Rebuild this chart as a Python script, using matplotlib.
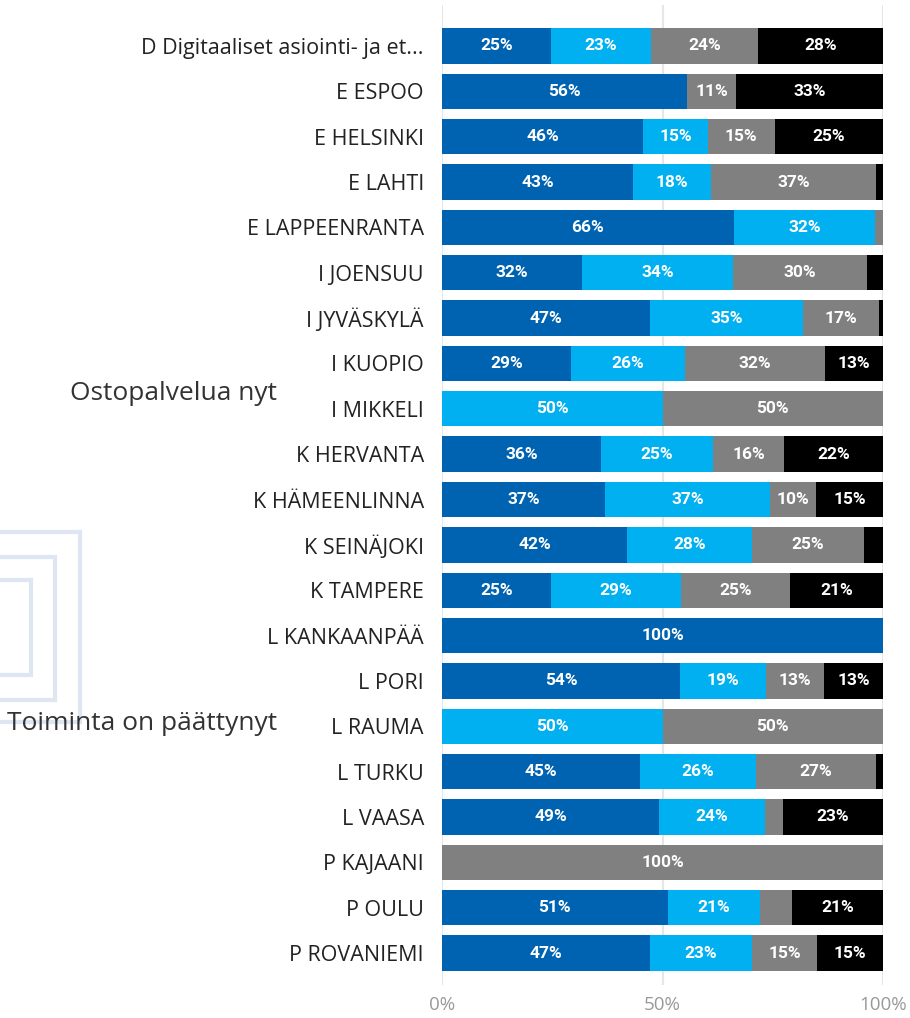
import matplotlib
matplotlib.use("Agg")
import matplotlib.pyplot as plt
from matplotlib.patches import Rectangle
import numpy as np

# categories, top to bottom
categories = [
    "D Digitaaliset asiointi- ja et...", "E ESPOO", "E HELSINKI", "E LAHTI",
    "E LAPPEENRANTA", "I JOENSUU", "I JYVÄSKYLÄ", "I KUOPIO", "I MIKKELI",
    "K HERVANTA", "K HÄMEENLINNA", "K SEINÄJOKI", "K TAMPERE", "L KANKAANPÄÄ",
    "L PORI", "L RAUMA", "L TURKU", "L VAASA", "P KAJAANI", "P OULU", "P ROVANIEMI",
]

# shares (%) for the four answer groups
dark_blue = [24.7, 55.6, 45.6, 43.3, 66.2, 31.7, 47.2, 29.3, 0, 36.0, 37.0,
             42.0, 24.7, 100, 54.0, 0, 44.9, 49.2, 0, 51.2, 47.2]
light_blue = [22.7, 0, 14.7, 17.7, 32.0, 34.3, 34.7, 25.8, 50, 25.4, 37.4,
              28.3, 29.4, 0, 19.4, 50, 26.4, 24.0, 0, 20.9, 23.1]
grey = [24.3, 11.1, 15.1, 37.4, 1.8, 30.4, 17.2, 31.7, 50, 16.2, 10.4,
        25.3, 24.9, 0, 13.3, 50, 27.1, 4.1, 100, 7.3, 14.7]
black = [28.3, 33.3, 24.6, 1.6, 0, 3.6, 0.9, 13.2, 0, 22.4, 15.2,
         4.4, 21.0, 0, 13.3, 0, 1.6, 22.7, 0, 20.6, 15.0]

series = [dark_blue, light_blue, grey, black]
colors = ["#0063b1", "#00b0f0", "#808080", "#000000"]

xticks = [0, 50, 100]
xticklabels = ["0%", "50%", "100%"]

W, H = 910, 1018
fig = plt.figure(figsize=(W / 100, H / 100), dpi=100)
ax = fig.add_axes([442 / W, 1 - 985 / H, (883 - 442) / W, (985 - 5) / H])

y = np.arange(len(categories))
left = np.zeros(len(categories))
for vals, col in zip(series, colors):
    vals = np.array(vals, dtype=float)
    ax.barh(y, vals, left=left, height=0.78, color=col, zorder=2)
    for yi, (l, v) in enumerate(zip(left, vals)):
        if v >= 9:
            ax.text(l + v / 2, yi, f"{v:.0f}%", ha="center", va="center",
                    color="white", fontsize=12.5, fontweight="bold",
                    family=["Roboto", "DejaVu Sans"], zorder=3)
    left += vals

ax.set_xlim(0, 100)
ax.set_ylim(20 + 32 / 45.35, -41 / 45.35)
ax.set_xticks(xticks)
ax.set_xticklabels(xticklabels)
ax.set_yticks(y)
ax.set_yticklabels(categories)
ax.tick_params(axis="y", length=0, pad=13, labelsize=15.5, labelcolor="#222222")
ax.tick_params(axis="x", length=0, pad=8, labelsize=13.5, labelcolor="#999999")
for lab in ax.get_yticklabels() + ax.get_xticklabels():
    lab.set_family(["Open Sans", "DejaVu Sans"])
for s in ax.spines.values():
    s.set_visible(False)
ax.grid(axis="x", color="#e6e6e6", linewidth=1.5, zorder=0)

# side annotations
fig.text(277 / W, 1 - 394 / H, "Ostopalvelua nyt", ha="right", va="center",
         fontsize=19, color="#333333", family=["Open Sans", "DejaVu Sans"])
fig.text(277 / W, 1 - 723 / H, "Toiminta on päättynyt", ha="right", va="center",
         fontsize=19, color="#333333", family=["Open Sans", "DejaVu Sans"])

# faint nested frame decoration at the left edge
for r, t, b in [(80, 532, 722), (55, 557, 700), (31, 580, 675)]:
    fig.patches.append(Rectangle((-20 / W, 1 - b / H), (r + 20) / W, (b - t) / H,
                                 transform=fig.transFigure, fill=False,
                                 edgecolor="#dfe6f3", linewidth=3, zorder=0))

fig.savefig("out.png", dpi=100)
